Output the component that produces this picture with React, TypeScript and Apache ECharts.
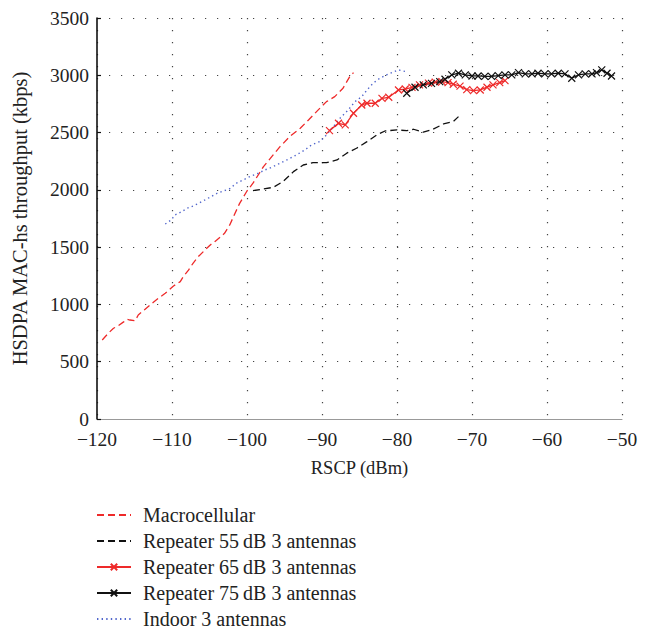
import React, { useEffect, useRef } from "react";
import * as echarts from "echarts";

const xTicks = [-120, -50, 10];
const yTicks = [0, 3500, 500];

const seriesNames = [
  "Macrocellular",
  "Repeater 55\u2009dB 3 antennas",
  "Repeater 65\u2009dB 3 antennas",
  "Repeater 75\u2009dB 3 antennas",
  "Indoor 3 antennas",
];

const macrocellular: [number, number][] = [
  [-119.3, 690], [-118.5, 748], [-117.8, 792], [-117.2, 812], [-116.4, 850], [-116.0, 870],
  [-115.6, 864], [-114.9, 858], [-114.5, 908], [-113.7, 952], [-113.2, 980], [-112.4, 1024],
  [-111.8, 1054], [-110.9, 1097], [-110.4, 1126], [-109.8, 1161], [-108.9, 1199], [-108.5, 1242],
  [-107.8, 1300], [-107.2, 1359], [-106.5, 1417], [-105.6, 1475], [-104.9, 1519], [-104.3, 1548],
  [-103.5, 1591], [-103.0, 1621], [-102.3, 1694], [-101.7, 1781], [-101.0, 1880], [-100.0, 1990],
  [-99.2, 2058], [-97.8, 2203], [-96.7, 2290], [-95.6, 2377], [-94.3, 2465], [-92.9, 2538],
  [-91.8, 2610], [-90.5, 2698], [-89.4, 2770], [-88.3, 2814], [-87.2, 2887], [-86.3, 2988],
  [-85.8, 3023],
];

const repeater55: [number, number][] = [
  [-99.2, 1993], [-96.5, 2022], [-95.2, 2072], [-93.8, 2159], [-92.5, 2217], [-91.2, 2238],
  [-89.4, 2238], [-88.0, 2261], [-86.7, 2320], [-85.4, 2363], [-84.0, 2421], [-82.7, 2479],
  [-81.6, 2514], [-80.0, 2523], [-78.7, 2517], [-77.8, 2529], [-76.5, 2503], [-75.2, 2529],
  [-73.8, 2575], [-72.5, 2596], [-71.8, 2639],
];

const repeater65: [number, number][] = [
  [-89.0, 2517], [-87.8, 2581], [-86.9, 2567], [-85.8, 2669], [-84.7, 2741], [-84.0, 2756],
  [-82.9, 2756], [-82.0, 2799], [-81.1, 2808], [-79.8, 2872], [-78.9, 2880], [-78.0, 2895],
  [-77.0, 2916], [-75.8, 2932], [-74.9, 2940], [-74.0, 2945], [-73.2, 2936], [-72.5, 2922],
  [-71.6, 2905], [-70.7, 2875], [-69.8, 2866], [-68.9, 2872], [-68.0, 2896], [-67.2, 2916],
  [-66.3, 2936], [-65.6, 2953],
];

const repeater75: [number, number][] = [
  [-78.7, 2843], [-77.6, 2896], [-76.5, 2916], [-75.4, 2930], [-74.3, 2945], [-73.6, 2965],
  [-72.7, 3003], [-71.8, 3018], [-70.9, 3003], [-70.0, 2994], [-69.2, 2994], [-68.3, 2990],
  [-67.4, 2990], [-66.5, 2997], [-65.6, 3003], [-64.7, 3003], [-63.8, 3023], [-62.9, 3012],
  [-62.0, 3012], [-61.2, 3018], [-60.3, 3012], [-59.4, 3012], [-58.5, 3018], [-57.6, 3012],
  [-56.7, 2974], [-55.8, 3003], [-54.9, 3012], [-54.0, 3012], [-53.4, 3023], [-52.7, 3047],
  [-52.0, 3018], [-51.4, 2994],
];

const indoor: [number, number][] = [
  [-110.9, 1702], [-110.1, 1737], [-109.6, 1781], [-108.7, 1810], [-108.0, 1839], [-107.2, 1859],
  [-106.3, 1888], [-105.6, 1912], [-104.0, 1970], [-102.3, 2010], [-101.4, 2058], [-100.5, 2087],
  [-99.6, 2116], [-98.5, 2145], [-97.6, 2174], [-96.7, 2197], [-95.6, 2232], [-94.5, 2267],
  [-93.4, 2305], [-92.3, 2348], [-91.4, 2392], [-90.3, 2421], [-89.4, 2479], [-88.3, 2567],
  [-87.6, 2625], [-86.5, 2698], [-85.6, 2770], [-84.7, 2814], [-84.0, 2872], [-83.2, 2930],
  [-82.3, 2974], [-81.4, 3003], [-79.8, 3047], [-78.8, 3032],
];

const RED = "#ee2a2a";
const BLACK = "#111111";
const BLUE = "#5166cc";
const FONT = "'Liberation Serif', 'DejaVu Serif', serif";
const XMARK = "path://M0,0L10,10M10,0L0,10";

export default function App() {
  const ref = useRef<HTMLDivElement>(null);

  useEffect(() => {
    if (!ref.current) return;
    const chart = echarts.init(ref.current, undefined, { renderer: "svg" });
    const grid = { type: [1.2, 10.8] as number[], color: "#444", width: 1.2 };
    const option: any = {
      animation: false,
      backgroundColor: "#fff",
      textStyle: { fontFamily: FONT },
      grid: { left: 97, right: 37, top: 18, bottom: 214, containLabel: false },
      xAxis: {
        type: "value",
        min: xTicks[0],
        max: xTicks[1],
        interval: xTicks[2],
        name: "RSCP (dBm)",
        nameLocation: "middle",
        nameGap: 39,
        nameTextStyle: { fontFamily: FONT, fontSize: 18.5, color: "#222" },
        axisLine: { show: true, onZero: false, lineStyle: { color: "#999", width: 1 } },
        axisTick: { show: false },
        axisLabel: {
          fontFamily: FONT, fontSize: 19.5, color: "#222", margin: 10,
          formatter: (v: number) => String(v).replace("-", "\u2212"),
        },
        splitLine: { show: true, lineStyle: grid },
      },
      yAxis: {
        type: "value",
        min: yTicks[0],
        max: yTicks[1],
        interval: yTicks[2],
        name: "HSDPA MAC-hs throughput (kbps)",
        nameLocation: "middle",
        nameGap: 67,
        nameTextStyle: { fontFamily: FONT, fontSize: 20.5, color: "#222" },
        axisLine: { show: true, lineStyle: { color: "#111", width: 1.6 } },
        axisTick: { show: true, inside: true, length: 4, lineStyle: { color: "#111", width: 1.2 } },
        axisLabel: {
          fontFamily: FONT, fontSize: 19.5, color: "#222", margin: 8,
          formatter: (v: number) => String(v),
        },
        splitLine: { show: true, lineStyle: grid },
      },
      legend: {
        orient: "vertical",
        left: 96,
        top: 505,
        height: 128,
        padding: 0,
        itemWidth: 34,
        itemHeight: 8,
        itemGap: 6,
        textStyle: { fontFamily: FONT, fontSize: 20, color: "#222", padding: [0, 0, 0, 7] },
        data: [
          { name: seriesNames[0], itemStyle: { opacity: 0 } },
          { name: seriesNames[1], itemStyle: { opacity: 0 } },
          { name: seriesNames[2] },
          { name: seriesNames[3] },
          { name: seriesNames[4], itemStyle: { opacity: 0 } },
        ],
      },
      series: [
        {
          name: seriesNames[0], type: "line", data: macrocellular, showSymbol: false, symbol: "none",
          lineStyle: { color: RED, width: 1.3, type: [7, 4] }, itemStyle: { color: RED },
        },
        {
          name: seriesNames[1], type: "line", data: repeater55, showSymbol: false, symbol: "none",
          lineStyle: { color: BLACK, width: 1.3, type: [7, 4] }, itemStyle: { color: BLACK },
        },
        {
          name: seriesNames[2], type: "line", data: repeater65, symbol: XMARK, symbolSize: 7,
          lineStyle: { color: RED, width: 1.3 },
          itemStyle: { color: RED, borderColor: RED, borderWidth: 1.2 },
        },
        {
          name: seriesNames[3], type: "line", data: repeater75, symbol: XMARK, symbolSize: 7,
          lineStyle: { color: BLACK, width: 1.3 },
          itemStyle: { color: BLACK, borderColor: BLACK, borderWidth: 1.2 },
        },
        {
          name: seriesNames[4], type: "line", data: indoor, showSymbol: false, symbol: "none",
          lineStyle: { color: BLUE, width: 1.4, type: [1.4, 3.2] }, itemStyle: { color: BLUE },
        },
      ],
    };
    chart.setOption(option);
    return () => chart.dispose();
  }, []);

  return (
    <div
      ref={ref}
      style={{ position: "fixed", left: 0, top: 0, width: 659, height: 633, background: "#fff" }}
    />
  );
}
